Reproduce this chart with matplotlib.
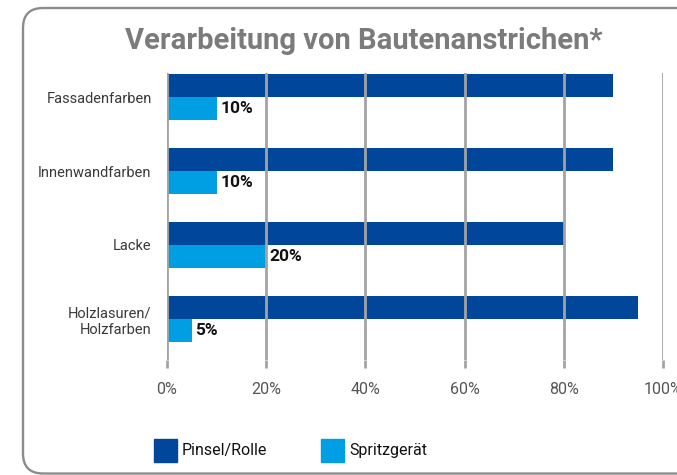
import matplotlib
matplotlib.use("Agg")
import numpy as np
import matplotlib.pyplot as plt
from matplotlib.patches import FancyBboxPatch

# Daten
kategorien = ["Fassadenfarben", "Innenwandfarben", "Lacke", "Holzlasuren/\nHolzfarben"]
pinsel_rolle = [90, 90, 80, 95]
spritzgeraet = [10, 10, 20, 5]
xticks = [0, 20, 40, 60, 80, 100]
xtick_labels = ["0%", "20%", "40%", "60%", "80%", "100%"]
serien = ["Pinsel/Rolle", "Spritzgerät"]

dunkelblau = "#00479b"
hellblau = "#009fe3"
grau = "#a3a3a3"

plt.rcParams["font.family"] = ["Roboto", "DejaVu Sans"]

fig = plt.figure(figsize=(6.77, 4.75), dpi=100)

# Rahmen mit runden Ecken (rechts abgeschnitten), in Zoll
rahmen = FancyBboxPatch((0.23, 0.015), 7.0, 4.655,
                        boxstyle="round,pad=0,rounding_size=0.2",
                        transform=fig.dpi_scale_trans, fill=False,
                        edgecolor="#8c8c8c", linewidth=1.7, clip_on=False)
fig.patches.append(rahmen)

fig.text(364 / 677, 1 - 41 / 475, "Verarbeitung von Bautenanstrichen*",
         ha="center", va="center", fontsize=21, fontweight="bold",
         color="#7b7b7b")

ax = fig.add_axes([167 / 677, 1 - 360 / 475, (663 - 167) / 677, (360 - 73) / 475])

y = np.arange(len(kategorien))
h = 0.31
ax.barh(y - h / 2, pinsel_rolle, height=h, color=dunkelblau, zorder=1)
ax.barh(y + h / 2, spritzgeraet, height=h, color=hellblau, zorder=1)

for yi, v in zip(y, spritzgeraet):
    ax.text(v + 0.7, yi + h / 2, f"{v}%", ha="left", va="center",
            fontsize=12.5, fontweight="bold", color="#111111")

ax.set_xlim(0, 100)
ax.set_ylim(3.555, -0.325)

for x in xticks:
    ax.axvline(x, color=grau, linewidth=2, zorder=3)

ax.set_xticks(xticks)
ax.set_xticklabels(xtick_labels)
ax.set_yticks(y)
ax.set_yticklabels(kategorien, linespacing=1.2)
ax.tick_params(axis="x", length=6, width=2, color=grau, pad=10,
               labelsize=11.5, labelcolor="#555555")
ax.tick_params(axis="y", length=0, pad=11, labelsize=10.5, labelcolor="#3a3a3a")
for s in ax.spines.values():
    s.set_visible(False)

# Legende
for xs, name, col in [(154, serien[0], dunkelblau), (321, serien[1], hellblau)]:
    fig.patches.append(plt.Rectangle((xs / 677, 1 - 462 / 475), 23 / 677, 23 / 475,
                                     transform=fig.transFigure, color=col))
    fig.text((xs + 28) / 677, 1 - 450 / 475, name, ha="left", va="center",
             fontsize=11.5, color="#111111")

fig.savefig("out.png", dpi=100)
